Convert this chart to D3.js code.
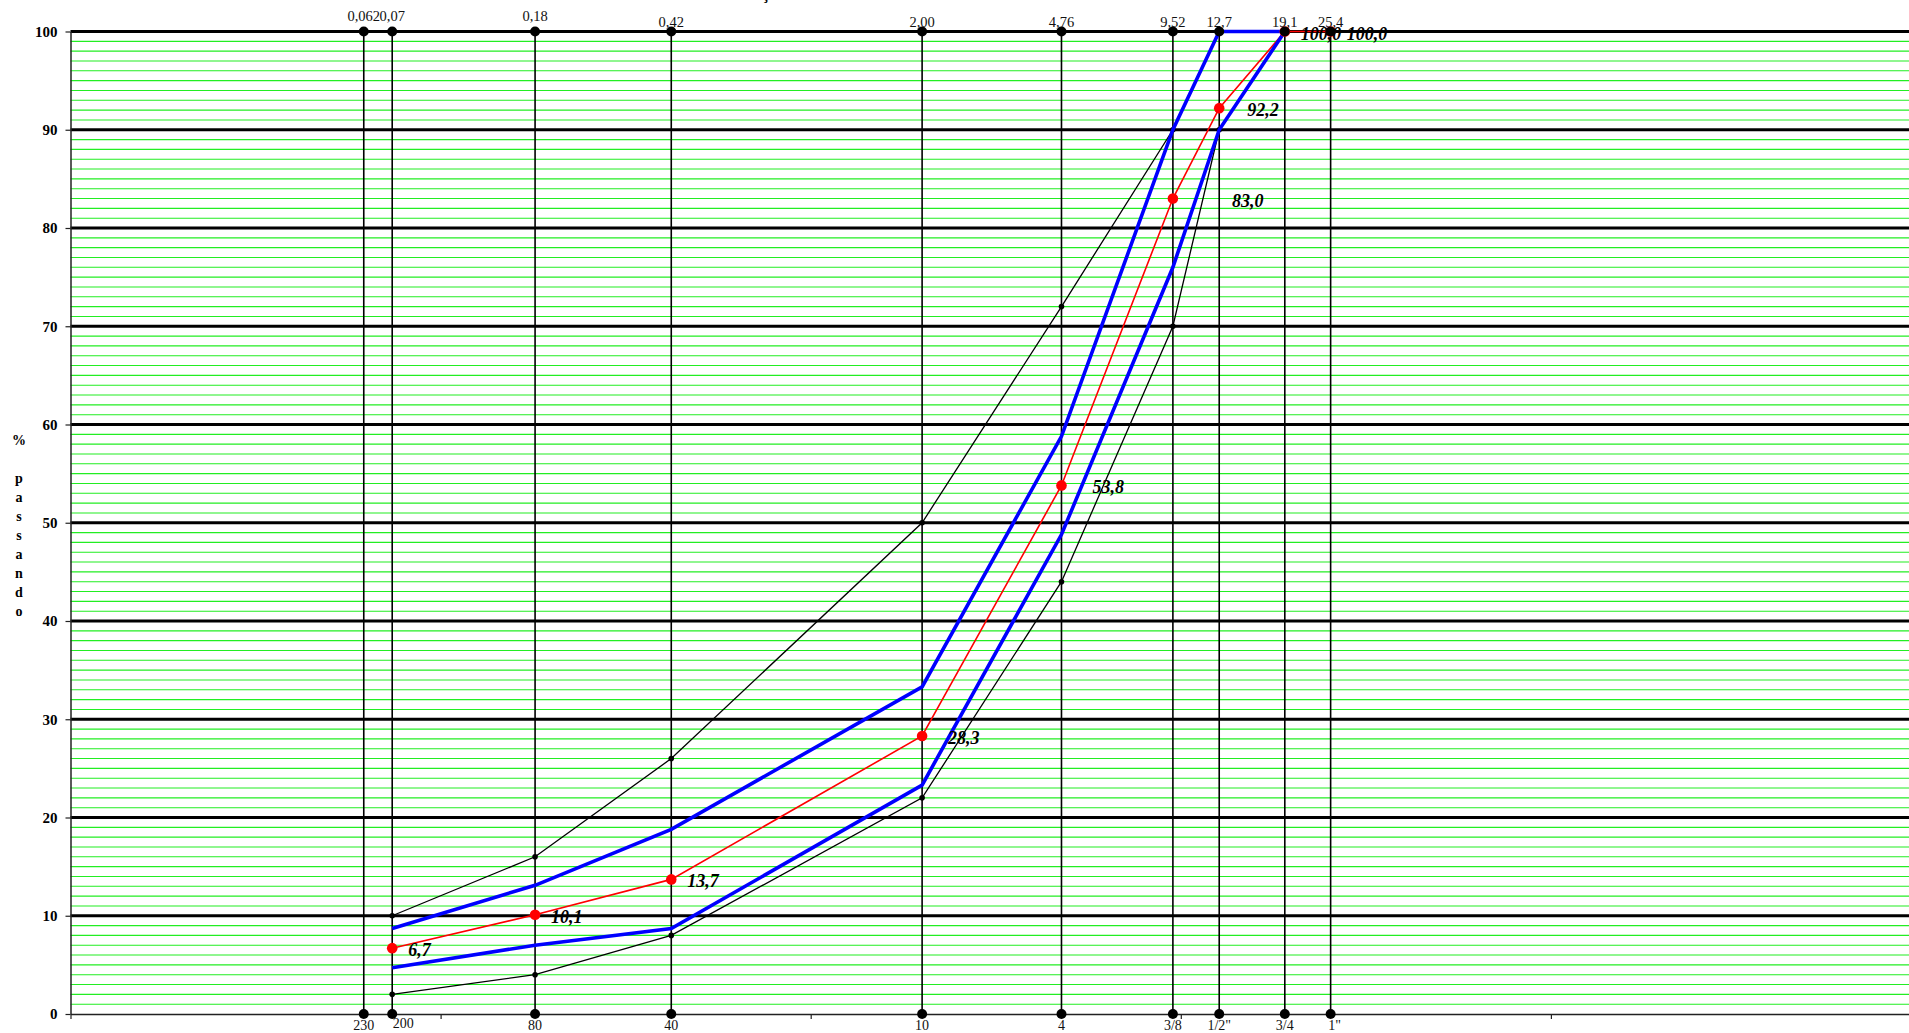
<!DOCTYPE html>
<html>
<head>
<meta charset="utf-8">
<script src="https://cdn.jsdelivr.net/npm/d3@7"></script>
<style>
  html, body { margin: 0; padding: 0; background: #fff; overflow: hidden; }
  svg { display: block; }
</style>
</head>
<body>
<div id="chart"></div>
<script>
// sieve openings (mm) and their names
var sieveMm = [0.062, 0.074, 0.18, 0.42, 2.00, 4.76, 9.52, 12.7, 19.1, 25.4];
var mmLabels = ["0,062", "0,07", "0,18", "0,42", "2,00", "4,76", "9,52", "12,7", "19,1", "25,4"];
var sieveNames = ["230", "200", "80", "40", "10", "4", "3/8", "1/2\"", "3/4", "1\""];

// curves (% passando) on sieves 200 .. 1"
var curveSieves = [0.074, 0.18, 0.42, 2.00, 4.76, 9.52, 12.7, 19.1, 25.4];
var upperLimit = [10, 16, 26, 50, 72, 90, 100, null, null];
var lowerLimit = [2, 4, 8, 22, 44, 70, 90, 100, null];
var upperBand = [8.7, 13.1, 18.8, 33.3, 58.8, 90, 100, 100, null];
var lowerBand = [4.7, 7.0, 8.7, 23.3, 48.8, 76, 90, 100, null];
var passing = [6.7, 10.1, 13.7, 28.3, 53.8, 83.0, 92.2, 100.0, 100.0];

var yTicks = [0, 10, 20, 30, 40, 50, 60, 70, 80, 90, 100];
var decades = [0.01, 0.1, 1, 10, 100, 1000];

var W = 1909, H = 1033;
var plotL = 70.5, plotR = 1921, plotT = 31.5, plotB = 1014;
var serif = "'Liberation Serif', 'Times New Roman', serif";

var svg = d3.select("#chart").append("svg")
    .attr("width", W).attr("height", H);

var x = d3.scaleLog().domain([0.01, 1000]).range([plotL, plotR]);
var y = d3.scaleLinear().domain([0, 100]).range([plotB, plotT]);

// title (sits above the page, only the cedilla shows)
var titleText = "Distribuição Granulométrica";
var title = svg.append("text")
    .attr("y", -1)
    .style("font-family", serif)
    .style("font-weight", "bold")
    .style("font-size", "16px")
    .text(titleText);
var pre = title.node().getSubStringLength(0, titleText.indexOf("ç"));
title.attr("x", 762 - pre);

// minor green grid
var minor = d3.range(1, 100).filter(function (v) { return v % 10 !== 0; });
svg.append("g").selectAll("line")
    .data(minor).enter().append("line")
    .attr("x1", plotL).attr("x2", plotR)
    .attr("y1", function (d) { return y(d); })
    .attr("y2", function (d) { return y(d); })
    .attr("stroke", "#22ee22")
    .attr("stroke-width", 1.1);

// major grid
svg.append("g").selectAll("line")
    .data(yTicks.filter(function (d) { return d > 0; })).enter().append("line")
    .attr("x1", plotL).attr("x2", plotR)
    .attr("y1", function (d) { return y(d); })
    .attr("y2", function (d) { return y(d); })
    .attr("stroke", "#000")
    .attr("stroke-width", 3.2);

// axes
var yAxis = svg.append("g")
    .attr("transform", "translate(" + plotL + ",0)")
    .call(d3.axisLeft(y).tickValues(yTicks).tickSize(5).tickSizeOuter(0).tickPadding(8));
yAxis.selectAll("text")
    .style("font-family", serif)
    .style("font-weight", "bold")
    .style("font-size", "15px")
    .attr("fill", "#000");

var xAxis = svg.append("g")
    .attr("transform", "translate(0," + plotB + ")")
    .call(d3.axisBottom(x).tickValues(decades).tickFormat("").tickSize(5).tickSizeOuter(0));

svg.selectAll(".domain").attr("stroke", "#222").attr("stroke-width", 1.5);
svg.selectAll(".tick line").attr("stroke", "#222").attr("stroke-width", 1.2);

// y axis title
svg.append("text")
    .attr("x", 19).attr("y", 445)
    .attr("text-anchor", "middle")
    .style("font-family", serif)
    .style("font-weight", "bold")
    .style("font-size", "14px")
    .text("%");
svg.append("g").selectAll("text")
    .data("passando".split("")).enter().append("text")
    .attr("x", 19)
    .attr("y", function (d, i) { return 483 + i * 19; })
    .attr("text-anchor", "middle")
    .style("font-family", serif)
    .style("font-weight", "bold")
    .style("font-size", "14px")
    .text(function (d) { return d; });

// sieve verticals
var sieves = svg.append("g");
sieves.selectAll("line")
    .data(sieveMm).enter().append("line")
    .attr("x1", function (d) { return x(d); })
    .attr("x2", function (d) { return x(d); })
    .attr("y1", y(100)).attr("y2", y(0))
    .attr("stroke", "#000")
    .attr("stroke-width", 1.6);

sieves.append("g").selectAll("circle")
    .data(sieveMm).enter().append("circle")
    .attr("cx", function (d) { return x(d); })
    .attr("cy", y(0))
    .attr("r", 5)
    .attr("fill", "#000");

// opening labels on top
sieves.append("g").selectAll("text")
    .data(sieveMm).enter().append("text")
    .attr("x", function (d) { return x(d); })
    .attr("y", function (d, i) { return i < 3 ? 21 : 27; })
    .attr("text-anchor", "middle")
    .style("font-family", serif)
    .style("font-size", "14.5px")
    .attr("fill", "#111")
    .text(function (d, i) { return mmLabels[i]; });

// sieve names below
sieves.append("g").selectAll("text")
    .data(sieveMm).enter().append("text")
    .attr("x", function (d, i) { return x(d) + (i === 1 ? 11 : (i === 9 ? 4 : 0)); })
    .attr("y", function (d, i) { return i === 1 ? 1028 : 1030; })
    .attr("text-anchor", "middle")
    .style("font-family", serif)
    .style("font-size", "14px")
    .attr("fill", "#111")
    .text(function (d, i) { return sieveNames[i]; });

// curves
function pts(values) {
    return curveSieves.map(function (s, i) { return [s, values[i]]; })
        .filter(function (p) { return p[1] !== null; });
}

var line = d3.line()
    .x(function (d) { return x(d[0]); })
    .y(function (d) { return y(d[1]); });

[upperLimit, lowerLimit].forEach(function (vals) {
    svg.append("path")
        .datum(pts(vals))
        .attr("d", line)
        .attr("fill", "none")
        .attr("stroke", "#000")
        .attr("stroke-width", 1.3);
    svg.append("g").selectAll("circle")
        .data(pts(vals)).enter().append("circle")
        .attr("cx", function (d) { return x(d[0]); })
        .attr("cy", function (d) { return y(d[1]); })
        .attr("r", 2.8)
        .attr("fill", "#000");
});

svg.append("path")
    .datum(pts(passing))
    .attr("d", line)
    .attr("fill", "none")
    .attr("stroke", "#ff0000")
    .attr("stroke-width", 1.6);

[upperBand, lowerBand].forEach(function (vals) {
    svg.append("path")
        .datum(pts(vals))
        .attr("d", line)
        .attr("fill", "none")
        .attr("stroke", "#0000ff")
        .attr("stroke-width", 3.6);
});

svg.append("g").selectAll("circle")
    .data(pts(passing)).enter().append("circle")
    .attr("cx", function (d) { return x(d[0]); })
    .attr("cy", function (d) { return y(d[1]); })
    .attr("r", 5.3)
    .attr("fill", "#ff0000");

// value labels on the passing curve
var labelDx = [16, 16, 16, 26, 31, 59, 28, 16, 16];
var fmt = function (v) { return v.toFixed(1).replace(".", ","); };
svg.append("g").selectAll("text")
    .data(pts(passing)).enter().append("text")
    .attr("x", function (d, i) { return x(d[0]) + labelDx[i]; })
    .attr("y", function (d) { return y(d[1]) + 8; })
    .style("font-family", serif)
    .style("font-weight", "bold")
    .style("font-style", "italic")
    .style("font-size", "18px")
    .attr("fill", "#000")
    .text(function (d) { return fmt(d[1]); });

// dots on the top edge stay above the curves
svg.append("g").selectAll("circle")
    .data(sieveMm).enter().append("circle")
    .attr("cx", function (d) { return x(d); })
    .attr("cy", y(100))
    .attr("r", 5)
    .attr("fill", "#000");
</script>
</body>
</html>
